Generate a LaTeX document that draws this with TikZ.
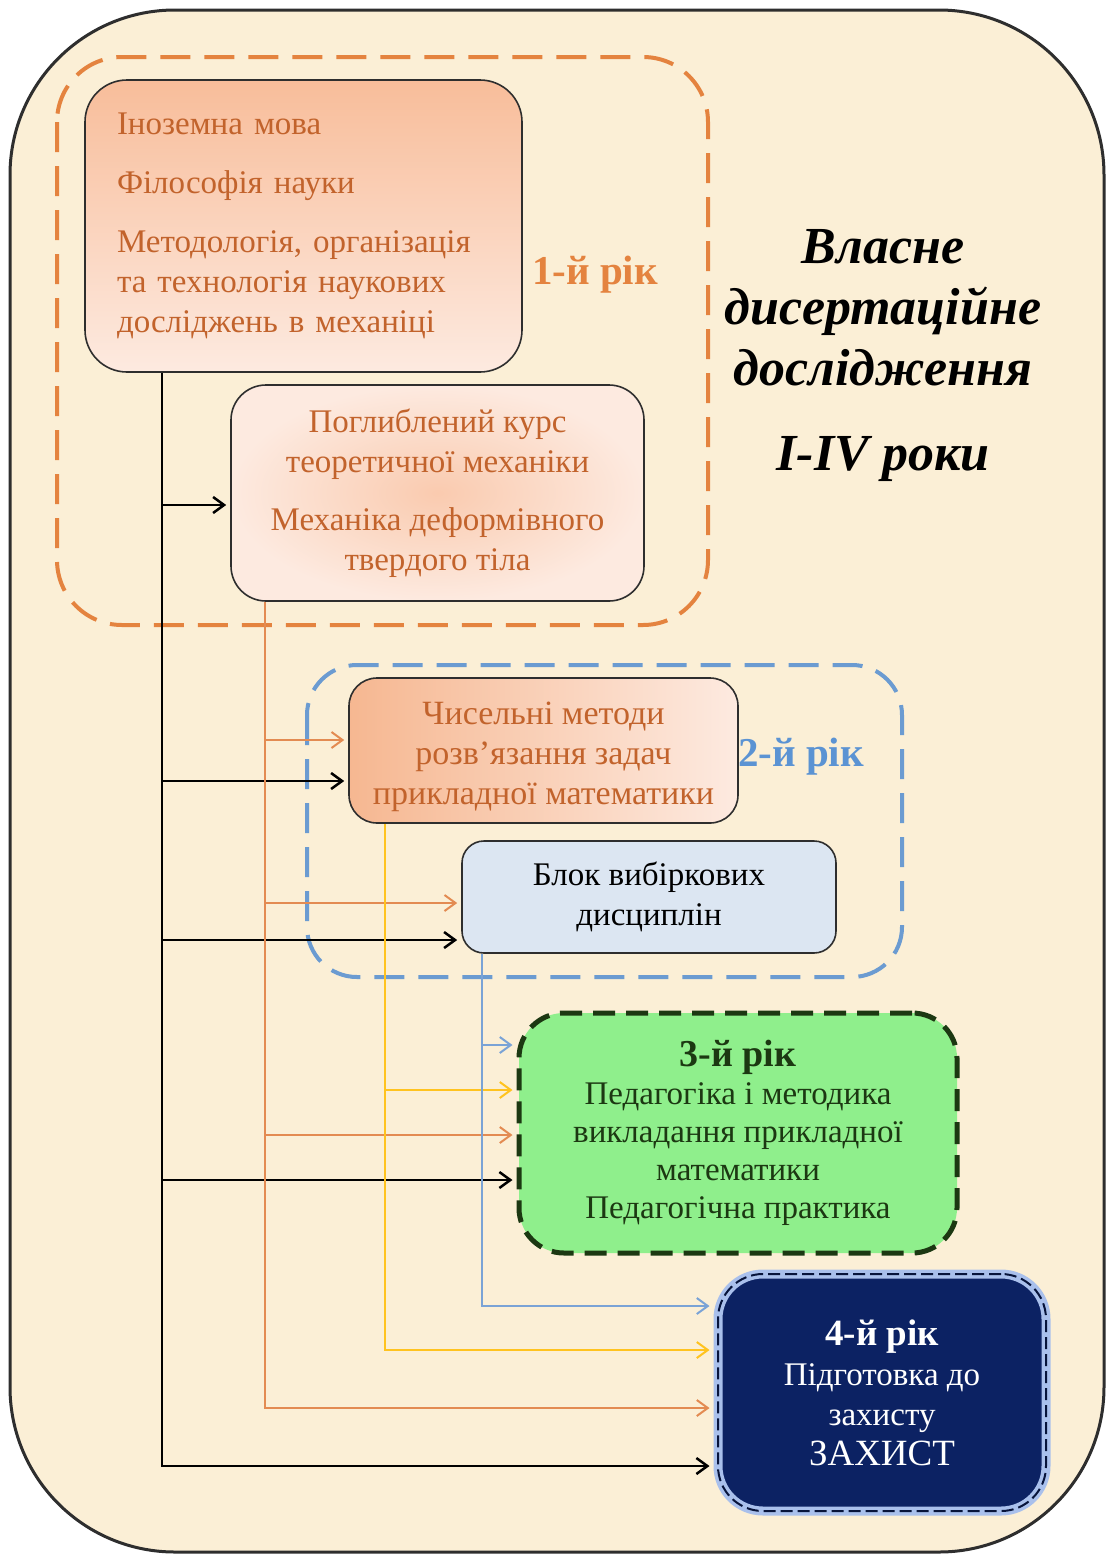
\documentclass[tikz,border=0pt]{standalone}
\usepackage{fontspec}
\setmainfont{Liberation Serif}
\usetikzlibrary{arrows.meta,positioning}

\definecolor{parch}{HTML}{FBEFD6}
\definecolor{rim}{HTML}{2E2E2E}
\definecolor{orgdash}{HTML}{E4833F}
\definecolor{orgtext}{HTML}{C2632C}
\definecolor{peachA}{HTML}{F8BD9A}
\definecolor{peachB}{HTML}{FDEAE0}
\definecolor{bluedash}{HTML}{6B9BD1}
\definecolor{bluetext}{HTML}{5B93D3}
\definecolor{icefill}{HTML}{DCE6F2}
\definecolor{mint}{HTML}{8FEF8C}
\definecolor{pine}{HTML}{1C3812}
\definecolor{navy}{HTML}{0C2263}
\definecolor{glow}{HTML}{A9C0EC}
\definecolor{orline}{HTML}{E38B52}
\definecolor{yeline}{HTML}{FFC31F}
\definecolor{blline}{HTML}{7AA3D6}

\tikzset{
  course/.style={draw=rim, line width=1.6pt, inner sep=0pt, align=center, text=orgtext,
    font=\fontsize{33}{40}\selectfont},
  yearmark/.style={font=\fontsize{41}{46}\selectfont\bfseries},
  feed/.style={line width=2pt, -{Straight Barb[length=11pt,width=16pt]}, shorten >=4pt},
}

\begin{document}
\begin{tikzpicture}[x=1pt,y=-1pt]
  % canvas
  \useasboundingbox (0,0) rectangle (1107,1556);
  \fill[white] (0,0) rectangle (1107,1556);
  \draw[rim, line width=3pt, fill=parch, rounded corners=165pt] (10,10) rectangle (1104,1552);

  % year groups
  \draw[orgdash, line width=4pt, dash pattern=on 30pt off 14pt, rounded corners=65pt] (57,57) rectangle (708,625);
  \draw[bluedash, line width=4pt, dash pattern=on 30pt off 14pt, rounded corners=50pt] (307,665) rectangle (902,977);

  % courses
  \node[course, rounded corners=42pt, minimum width=437pt, minimum height=292pt, text width=373pt, align=left,
    top color=peachA, bottom color=peachB] (kurs1) at (303.5,226)
    {Іноземна мова\\[19pt]Філософія науки\\[19pt]Методологія, організація\\та технологія наукових\\досліджень в механіці};
  \node[course, rounded corners=35pt, minimum width=413pt, minimum height=216pt,
    inner color=peachA!70!peachB, outer color=peachB] (kurs2) at (437.5,493)
    {Поглиблений курс\\теоретичної механіки\\[18pt]Механіка деформівного\\твердого тіла};
  \node[course, rounded corners=28pt, minimum width=389pt, minimum height=145pt,
    left color=peachA!90!orgdash, right color=peachB, font=\fontsize{34}{40}\selectfont] (kurs3) at (543.5,750.5)
    {\raisebox{-6pt}[\height][\depth]{\parbox{389pt}{\centering Чисельні методи\\розв’язання задач\\прикладної математики}}};
  \node[course, rounded corners=22pt, minimum width=374pt, minimum height=112pt, fill=icefill, text=black] (vybir) at (649,897)
    {Блок вибіркових\\дисциплін};
  \node[draw=pine, line width=5pt, dash pattern=on 22pt off 11pt, rounded corners=45pt, fill=mint, text=pine,
    minimum width=438pt, minimum height=240pt, align=center, font=\fontsize{33}{38}\selectfont] (pedag) at (738,1133)
    {{\fontsize{38}{38}\selectfont\bfseries 3-й рік}\\Педагогіка і методика\\викладання прикладної\\математики\\Педагогічна практика};
  \node[draw=glow, line width=9pt, fill=navy, rounded corners=45pt, minimum width=328pt, minimum height=237pt,
    text=white, align=center, font=\fontsize{33}{40}\selectfont,
    postaction={draw=navy!60!black, line width=2pt, dash pattern=on 12pt off 5pt}] (zakhyst) at (882,1392.5)
    {{\fontsize{37}{40}\selectfont\bfseries 4-й рік}\\Підготовка до\\захисту\\{\fontsize{37}{40}\selectfont ЗАХИСТ}};

  % labels
  \node[font=\fontsize{52}{61}\selectfont\bfseries\itshape, align=center] (tema) at (883,356)
    {Власне\\дисертаційне\\дослідження\\[24pt]I-IV роки};
  \node[yearmark, text=orgdash] (rik1) at (595,275) {1-й рік};
  \node[yearmark, text=bluetext] (rik2) at (801,757) {2-й рік};

  % feed lines
  \coordinate (kx) at (162,0);
  \coordinate (ox) at (265,0);
  \coordinate (yx) at (385,0);
  \coordinate (bx) at (482,0);

  \draw[feed, black, line width=2.5pt] (kurs1.south -| kx) |- (zakhyst.west |- 0,1466);
  \foreach \dest/\y in {kurs2/505, kurs3/781, vybir/940, pedag/1180}
    \draw[feed, black, line width=2.5pt] (kx |- 0,\y) -- (\dest.west |- 0,\y);

  \draw[feed, orline] (kurs2.south -| ox) |- (zakhyst.west |- 0,1408);
  \foreach \dest/\y in {kurs3/740, vybir/903, pedag/1135}
    \draw[feed, orline] (ox |- 0,\y) -- (\dest.west |- 0,\y);

  \draw[feed, yeline] (kurs3.south -| yx) |- (zakhyst.west |- 0,1350);
  \draw[feed, yeline] (yx |- 0,1090) -- (pedag.west |- 0,1090);

  \draw[feed, blline] (vybir.south -| bx) |- (zakhyst.west |- 0,1306);
  \draw[feed, blline] (bx |- 0,1045) -- (pedag.west |- 0,1045);
\end{tikzpicture}
\end{document}
